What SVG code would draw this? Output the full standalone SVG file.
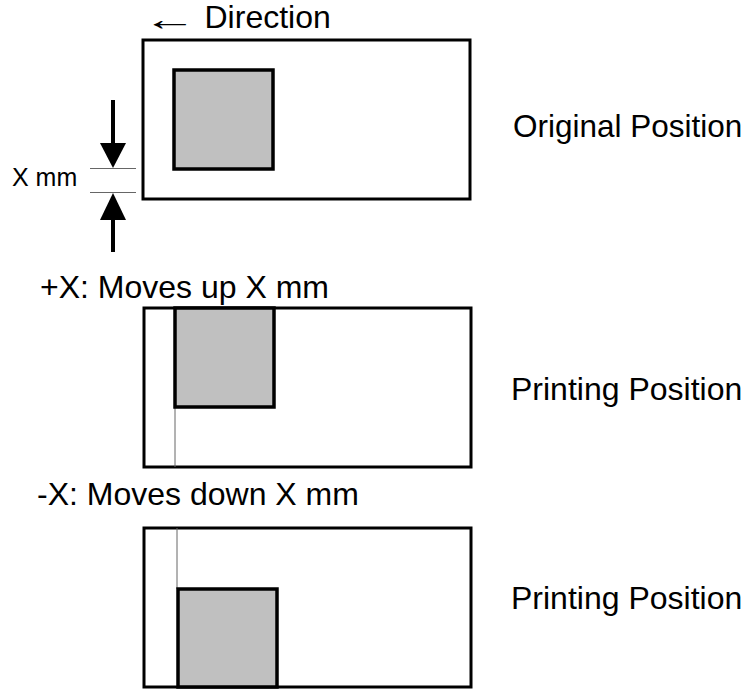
<svg xmlns="http://www.w3.org/2000/svg" width="747" height="690" viewBox="0 0 747 690">
<style>
.box{fill:#fff;stroke:#000;stroke-width:3}
.sq{fill:#c0c0c0;stroke:#000;stroke-width:3.5}
.thin{stroke:#666;stroke-width:1;fill:none}
.lbl{font-family:"Liberation Sans",Arial,sans-serif;font-size:32px;fill:#000}
.sm{font-family:"Liberation Sans",Arial,sans-serif;font-size:25px;fill:#000}
</style>
<rect width="747" height="690" fill="#fff"/>
<g id="title">
<g transform="translate(143,30) scale(1.7,1)"><text class="lbl" x="0" y="0">←</text></g>
<text class="lbl" x="204.5" y="28">Direction</text>
</g>
<g id="original">
<rect class="box" x="143" y="40" width="327" height="159"/>
<rect class="sq" x="174" y="70" width="99" height="99"/>
<text class="lbl" x="513" y="137" style="font-size:31.5px">Original Position</text>
</g>
<g id="plus">
<text class="lbl" x="40" y="298">+X: Moves up X mm</text>
<rect class="box" x="144" y="308" width="327" height="159"/>
<line class="thin" x1="175" y1="407" x2="175" y2="467"/>
<rect class="sq" x="175" y="308" width="99" height="99"/>
<text class="lbl" x="511" y="400">Printing Position</text>
</g>
<g id="minus">
<text class="lbl" x="37" y="505">-X: Moves down X mm</text>
<rect class="box" x="144" y="528" width="327" height="159"/>
<line class="thin" x1="177" y1="528" x2="177" y2="589"/>
<rect class="sq" x="178" y="589" width="99" height="98"/>
<text class="lbl" x="511" y="609">Printing Position</text>
</g>
<g id="connectors">
<line class="thin" x1="90" y1="168.5" x2="136" y2="168.5"/>
<line class="thin" x1="90" y1="192.5" x2="136" y2="192.5"/>
<line x1="113" y1="100" x2="113" y2="145" stroke="#000" stroke-width="4"/>
<polygon points="100,143 126,143 113,168" fill="#000"/>
<polygon points="113,193 100,220 126,220" fill="#000"/>
<line x1="113" y1="218" x2="113" y2="252" stroke="#000" stroke-width="4"/>
<text class="sm" x="12" y="186">X mm</text>
</g>
</svg>
